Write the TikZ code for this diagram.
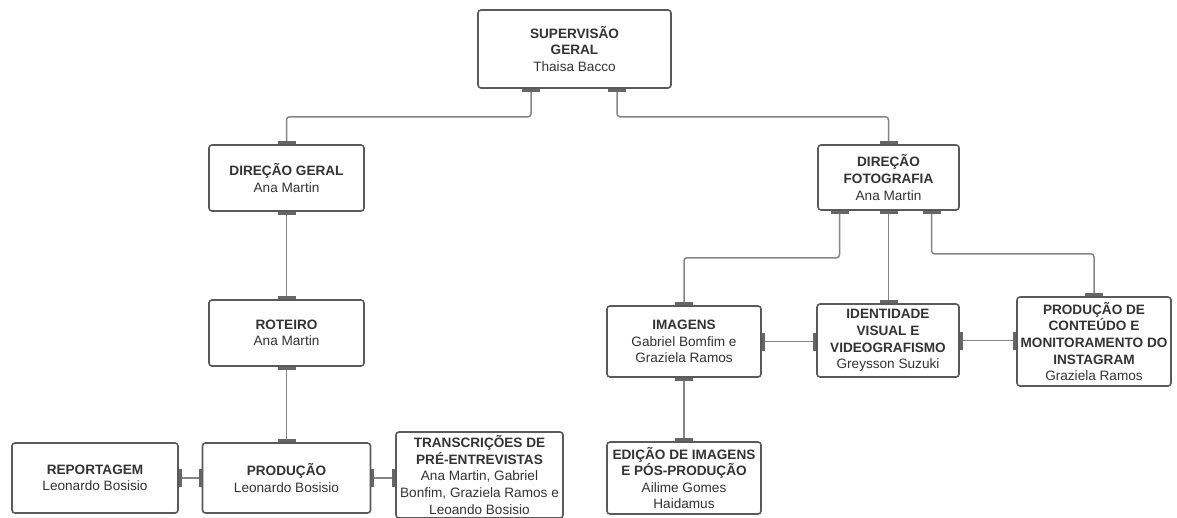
\documentclass[tikz,border=0pt]{standalone}
\usepackage{fontspec}
\setmainfont{Liberation Sans}
\usetikzlibrary{arrows.meta}
\definecolor{boxc}{HTML}{5A5A5A}
\definecolor{linec}{HTML}{858585}
\definecolor{barc}{HTML}{666666}
\definecolor{txt}{HTML}{333333}
\begin{document}
\begin{tikzpicture}[x=1pt,y=-1pt,
  box/.style={draw=boxc, line width=1.6pt, rounded corners=3pt, fill=white, align=center,
    text=txt, font=\fontsize{13.6}{16.6}\selectfont, inner sep=0pt},
  bartip/.tip={Bar[width=18pt,line width=3pt,color=barc]},
  conn/.style={draw=linec, line width=1.5pt, rounded corners=3pt, bartip-bartip}]
\path[use as bounding box, clip] (0,0) rectangle (1177,517);
\fill[white] (0,0) rectangle (1177,517);

\node[box, minimum width=193pt, minimum height=78pt] (sup) at (574.5,49)
  {\textbf{SUPERVISÃO}\\\textbf{GERAL}\\Thaisa Bacco};
\node[box, minimum width=155pt, minimum height=66pt] (dg) at (286.5,178)
  {\textbf{DIREÇÃO GERAL}\\Ana Martin};
\node[box, minimum width=155pt, minimum height=66pt] (rot) at (286.5,333)
  {\textbf{ROTEIRO}\\Ana Martin};
\node[box, minimum width=168pt, minimum height=70pt] (prod) at (286.5,478)
  {\textbf{PRODUÇÃO}\\Leonardo Bosisio};
\node[box, minimum width=166pt, minimum height=70pt] (rep) at (95,478)
  {\textbf{REPORTAGEM}\\Leonardo Bosisio};
\node[box, minimum width=167pt, minimum height=86pt] (trans) at (479.5,475)
  {\textbf{TRANSCRIÇÕES DE}\\\textbf{PRÉ-ENTREVISTAS}\\Ana Martin, Gabriel\\Bonfim, Graziela Ramos e\\Leoando Bosisio};
\node[box, minimum width=141pt, minimum height=65pt] (df) at (888.5,177.5)
  {\textbf{DIREÇÃO}\\\textbf{FOTOGRAFIA}\\Ana Martin};
\node[box, minimum width=154pt, minimum height=71pt] (img) at (684,341.5)
  {\textbf{IMAGENS}\\Gabriel Bomfim e\\Graziela Ramos};
\node[box, minimum width=142pt, minimum height=73pt] (idv) at (888,340.5)
  {\textbf{IDENTIDADE}\\\textbf{VISUAL E}\\\textbf{VIDEOGRAFISMO}\\Greysson Suzuki};
\node[box, minimum width=154pt, minimum height=89pt] (pdc) at (1094,341.5)
  {\textbf{PRODUÇÃO DE}\\\textbf{CONTEÚDO E}\\\textbf{MONITORAMENTO DO}\\\textbf{INSTAGRAM}\\Graziela Ramos};
\node[box, minimum width=154pt, minimum height=72pt] (ed) at (684,478)
  {\textbf{EDIÇÃO DE IMAGENS}\\\textbf{E PÓS-PRODUÇÃO}\\Ailime Gomes\\Haidamus};

\draw[conn] ([xshift=-43.5pt]sup.south) -- ++(0,28) -| (dg.north);
\draw[conn] ([xshift=42.5pt]sup.south) -- ++(0,28) -| (df.north);
\draw[conn] (dg.south) -- (rot.north);
\draw[conn] (rot.south) -- (prod.north);
\draw[conn] (rep.east) -- (prod.west);
\draw[conn] (prod.east) -- (prod.east -| trans.west);
\draw[conn] ([xshift=-49pt]df.south) -- ++(0,47) -| (img.north);
\draw[conn] (df.south) -- (df.south |- idv.north);
\draw[conn] ([xshift=43pt]df.south) -- ++(0,43) -| (pdc.north);
\draw[conn] (img.east) -- (img.east -| idv.west);
\draw[conn] (idv.east) -- (idv.east -| pdc.west);
\draw[conn] (img.south) -- (ed.north);
\end{tikzpicture}
\end{document}
